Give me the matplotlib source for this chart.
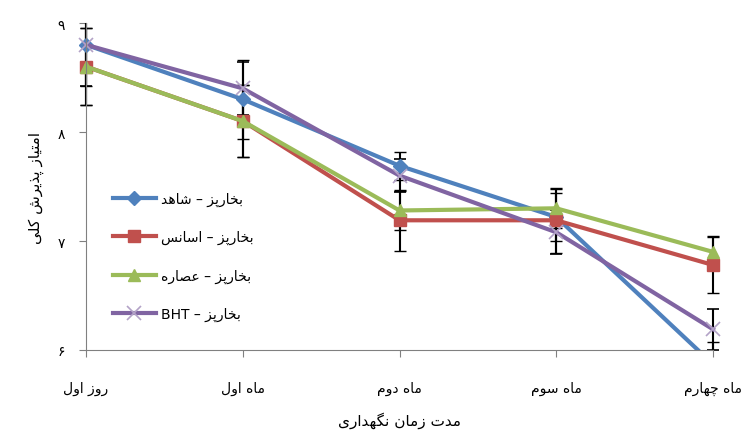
import re
import matplotlib
matplotlib.use('Agg')
import matplotlib.pyplot as plt
from matplotlib.patches import Rectangle

# Persian letters -> presentation forms (isolated, final, initial, medial)
FORMS = {
    'ا': ('\uFE8D', '\uFE8E'),
    'ب': ('\uFE8F', '\uFE90', '\uFE91', '\uFE92'),
    'پ': ('\uFB56', '\uFB57', '\uFB58', '\uFB59'),
    'ت': ('\uFE95', '\uFE96', '\uFE97', '\uFE98'),
    'چ': ('\uFB7A', '\uFB7B', '\uFB7C', '\uFB7D'),
    'ح': ('\uFEA1', '\uFEA2', '\uFEA3', '\uFEA4'),
    'خ': ('\uFEA5', '\uFEA6', '\uFEA7', '\uFEA8'),
    'د': ('\uFEA9', '\uFEAA'),
    'ذ': ('\uFEAB', '\uFEAC'),
    'ر': ('\uFEAD', '\uFEAE'),
    'ز': ('\uFEAF', '\uFEB0'),
    'س': ('\uFEB1', '\uFEB2', '\uFEB3', '\uFEB4'),
    'ش': ('\uFEB5', '\uFEB6', '\uFEB7', '\uFEB8'),
    'ص': ('\uFEB9', '\uFEBA', '\uFEBB', '\uFEBC'),
    'ع': ('\uFEC9', '\uFECA', '\uFECB', '\uFECC'),
    'ک': ('\uFB8E', '\uFB8F', '\uFB90', '\uFB91'),
    'گ': ('\uFB92', '\uFB93', '\uFB94', '\uFB95'),
    'ل': ('\uFEDD', '\uFEDE', '\uFEDF', '\uFEE0'),
    'م': ('\uFEE1', '\uFEE2', '\uFEE3', '\uFEE4'),
    'ن': ('\uFEE5', '\uFEE6', '\uFEE7', '\uFEE8'),
    'ه': ('\uFEE9', '\uFEEA', '\uFEEB', '\uFEEC'),
    'و': ('\uFEED', '\uFEEE'),
    'ی': ('\uFBFC', '\uFBFD', '\uFBFE', '\uFBFF'),
}


def fa(text):
    # join letters, then put the string in visual (right-to-left) order
    out = []
    for i, c in enumerate(text):
        if c not in FORMS:
            out.append(c)
            continue
        f = FORMS[c]
        prev = text[i - 1] if i > 0 else None
        nxt = text[i + 1] if i + 1 < len(text) else None
        jp = prev in FORMS and len(FORMS[prev]) == 4
        jn = len(f) == 4 and nxt in FORMS
        if jp and jn:
            out.append(f[3])
        elif jp:
            out.append(f[1])
        elif jn:
            out.append(f[2])
        else:
            out.append(f[0])
    s = ''.join(out)[::-1]
    return re.sub(r'[A-Za-z0-9]+', lambda m: m.group()[::-1], s)


# data
categories = ['روز اول', 'ماه اول', 'ماه دوم', 'ماه سوم', 'ماه چهارم']
y_ticks = [6, 7, 8, 9]
y_ticklabels = ['۶', '۷', '۸', '۹']

labels = ['بخارپز – شاهد', 'بخارپز – اسانس', 'بخارپز – عصاره', 'بخارپز – BHT']
shahed = [8.8, 8.3, 7.69, 7.22, 5.87]
essence = [8.6, 8.1, 7.19, 7.19, 6.78]
extract = [8.6, 8.1, 7.28, 7.3, 6.9]
bht = [8.8, 8.4, 7.6, 7.08, 6.19]

shahed_err = [0.38, 0.36, 0.13, 0.22, 0.2]
essence_err = [0.35, 0.33, 0.28, 0.3, 0.26]
extract_err = [0.35, 0.33, 0.18, 0.18, 0.15]
bht_err = [0.38, 0.24, 0.15, 0.2, 0.19]

colors = ['#4F81BD', '#C0504D', '#9BBB59', '#8064A2']
markers = ['D', 's', '^', 'x']
msizes = [7, 9, 9, 10]

fig = plt.figure(figsize=(7.45, 4.35), dpi=100)
ax = fig.add_axes([86 / 745, 84 / 435, 627 / 745, 327 / 435])

x = list(range(len(categories)))
handles = []
for vals, errs, col, mk, ms in zip([shahed, essence, extract, bht],
                                   [shahed_err, essence_err, extract_err, bht_err],
                                   colors, markers, msizes):
    cont = ax.errorbar(x, vals, yerr=errs, color=col, lw=3, marker=mk, ms=ms,
                       mec=col if mk != 'x' else '#B3A2C7', mew=1.2 if mk == 'x' else 1,
                       ecolor='black', elinewidth=1.5, capsize=4, capthick=1.5)
    clip = Rectangle((-0.05, 0), 1.1, 1.0, transform=ax.transAxes)
    cont[0].set_clip_path(clip)
    for cl in cont[1]:
        cl.set_clip_path(clip)
    for bl in cont[2]:
        bl.set_clip_path(clip)
    handles.append(cont[0])

ax.set_xlim(0, 4)
ax.set_ylim(6, 9)
ax.set_xticks(x)
ax.set_xticklabels([fa(c) for c in categories], fontsize=10)
ax.set_yticks(y_ticks)
ax.set_yticklabels(y_ticklabels, fontsize=10)
ax.tick_params(axis='x', length=5, pad=17, color='#808080')
ax.tick_params(axis='y', length=5, pad=10, color='#808080')

for side in ['top', 'right']:
    ax.spines[side].set_visible(False)
for side in ['left', 'bottom']:
    ax.spines[side].set_color('#808080')

ax.set_xlabel(fa('مدت زمان نگهداری'), fontsize=11, labelpad=12)
ax.set_ylabel(fa('امتیاز پذیرش کلی'), fontsize=11, labelpad=10)

ax.legend(handles, [fa(l) for l in labels], loc='upper left',
          bbox_to_anchor=(100 / 745, 1 - 180 / 435), bbox_transform=fig.transFigure,
          frameon=False, fontsize=10, handlelength=3.1, labelspacing=1.75,
          handletextpad=0.4)

fig.savefig('out.png', dpi=100)
